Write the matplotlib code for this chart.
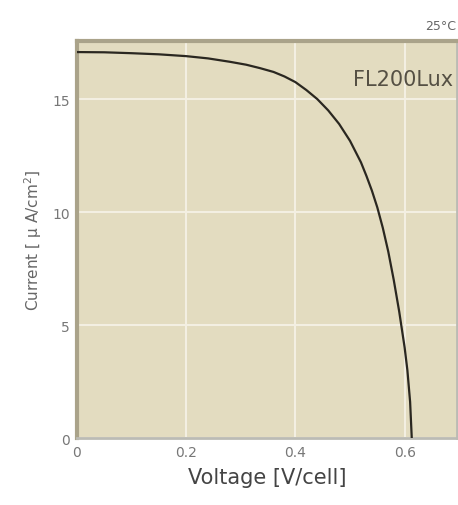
import matplotlib.pyplot as plt

# I-V curve, FL200Lux at 25C
voltage = [0.0, 0.05, 0.10, 0.15, 0.20, 0.24, 0.28, 0.31, 0.335, 0.36, 0.38, 0.40, 0.42, 0.44, 0.46, 0.48, 0.50, 0.52, 0.53, 0.54, 0.55, 0.56, 0.57, 0.58, 0.59, 0.60, 0.605, 0.61, 0.613]
current = [17.08, 17.07, 17.03, 16.98, 16.9, 16.8, 16.65, 16.52, 16.37, 16.2, 16.0, 15.75, 15.4, 15.0, 14.5, 13.9, 13.15, 12.2, 11.6, 10.95, 10.2, 9.3, 8.25, 7.0, 5.6, 4.0, 3.0, 1.6, 0.0]
xticks = [0, 0.2, 0.4, 0.6]
xticklabels = ['0', '0.2', '0.4', '0.6']
yticks = [0, 5, 10, 15]

fig = plt.figure(figsize=(4.58, 5.06), dpi=100)
ax = fig.add_axes([0.168, 0.1324, 0.83, 0.7846])
ax.set_facecolor('#e3dcc0')
ax.plot(voltage, current, color='#2a2720', linewidth=1.6, zorder=3)
ax.set_xlim(0, 0.696)
ax.set_ylim(0, 17.57)
ax.set_xticks(xticks)
ax.set_xticklabels(xticklabels)
ax.set_yticks(yticks)
ax.grid(True, color='#f3efe2', linewidth=1.5)
ax.set_axisbelow(True)
ax.tick_params(length=0, colors='#777777', labelsize=10, pad=5)
for s in ['left', 'top']:
    ax.spines[s].set_color('#aaa38a')
    ax.spines[s].set_linewidth(3)
for s in ['bottom', 'right']:
    ax.spines[s].set_color('#bbbbb4')
    ax.spines[s].set_linewidth(2)
ax.set_xlabel('Voltage [V/cell]', fontsize=15, color='#444444', labelpad=6)
ax.set_ylabel('Current [ μ A/cm$^2$]', fontsize=11, color='#666666', labelpad=6)
ax.text(0.99, 0.89, 'FL200Lux', transform=ax.transAxes, ha='right', fontsize=15, color='#555044')
fig.text(0.995, 0.94, '25°C', ha='right', fontsize=9, color='#666666')
fig.savefig('out.png', dpi=100)
